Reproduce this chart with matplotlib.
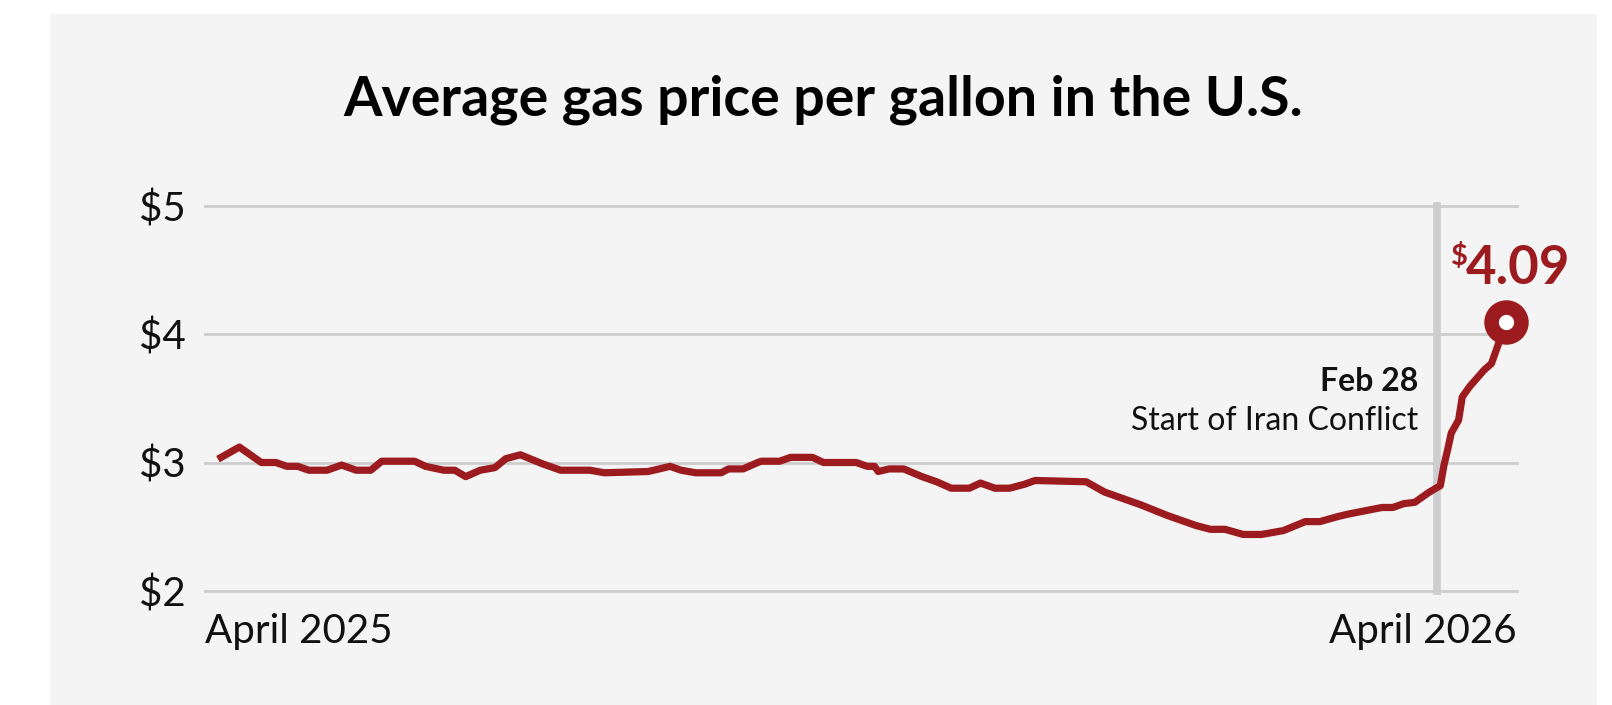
import pandas as pd
import matplotlib.pyplot as plt
from matplotlib.patches import Rectangle

# values (date, average price per gallon)
dates = [
	"2025-04-01", "2025-04-06", "2025-04-12", "2025-04-16", "2025-04-19", "2025-04-22",
	"2025-04-25", "2025-04-30", "2025-05-04", "2025-05-08", "2025-05-12", "2025-05-15",
	"2025-05-24", "2025-05-27", "2025-06-01", "2025-06-04", "2025-06-07", "2025-06-11",
	"2025-06-15", "2025-06-18", "2025-06-22", "2025-06-28", "2025-07-03", "2025-07-11",
	"2025-07-15", "2025-07-27", "2025-08-02", "2025-08-05", "2025-08-09", "2025-08-16",
	"2025-08-18", "2025-08-22", "2025-08-26", "2025-08-27", "2025-09-01", "2025-09-04",
	"2025-09-10", "2025-09-13", "2025-09-22", "2025-09-25", "2025-09-27", "2025-09-28",
	"2025-10-01", "2025-10-05", "2025-10-10", "2025-10-14", "2025-10-18", "2025-10-23",
	"2025-10-26", "2025-10-30", "2025-11-03", "2025-11-07", "2025-11-10", "2025-11-24",
	"2025-11-29", "2025-12-04", "2025-12-09", "2025-12-16", "2025-12-24", "2025-12-28",
	"2026-01-01", "2026-01-06", "2026-01-11", "2026-01-17", "2026-01-23", "2026-01-27",
	"2026-02-01", "2026-02-04", "2026-02-13", "2026-02-16", "2026-02-19", "2026-02-22",
	"2026-02-24", "2026-02-26", "2026-03-01", "2026-03-02", "2026-03-03", "2026-03-04",
	"2026-03-05", "2026-03-06", "2026-03-07", "2026-03-09", "2026-03-13", "2026-03-15",
	"2026-03-16", "2026-03-19",
]
prices = [
	3.04, 3.12, 3.00, 3.00, 2.97, 2.97,
	2.94, 2.94, 2.98, 2.94, 2.94, 3.01,
	3.01, 2.97, 2.94, 2.94, 2.89, 2.94,
	2.96, 3.03, 3.06, 2.99, 2.94, 2.94,
	2.92, 2.93, 2.97, 2.94, 2.92, 2.92,
	2.95, 2.95, 3.00, 3.01, 3.01, 3.04,
	3.04, 3.00, 3.00, 2.97, 2.97, 2.93,
	2.95, 2.95, 2.89, 2.85, 2.80, 2.80,
	2.84, 2.80, 2.80, 2.83, 2.86, 2.85,
	2.77, 2.72, 2.67, 2.59, 2.51, 2.48,
	2.48, 2.44, 2.44, 2.47, 2.54, 2.54,
	2.58, 2.60, 2.65, 2.65, 2.68, 2.69,
	2.73, 2.77, 2.82, 2.98, 3.10, 3.23,
	3.28, 3.33, 3.51, 3.59, 3.72, 3.77,
	3.85, 4.09,
]
y_ticks = [2, 3, 4, 5]
y_labels = ["$2", "$3", "$4", "$5"]
x_labels = ["April 2025", "April 2026"]
event_date = "2026-02-28"

df = pd.DataFrame({"price": prices}, index=pd.to_datetime(dates))

red = "#9b1b1f"
grid_c = "#cdcdcd"
ink = "#111111"
plt.rcParams["font.family"] = ["Lato", "DejaVu Sans"]

fig = plt.figure(figsize=(16.12, 7.05), dpi=100)
fig.patches.append(Rectangle((50 / 1612, 0), 1547 / 1612, 691 / 705,
	transform=fig.transFigure, facecolor="#f4f4f4", edgecolor="none", zorder=-1))

ax = fig.add_axes([205 / 1612, 1 - 591 / 705, 1312 / 1612, 385.5 / 705])
ax.set_facecolor("none")
for s in ax.spines.values():
	s.set_visible(False)

x0 = pd.Timestamp("2025-03-27 14:00")
x1 = pd.Timestamp("2026-03-22")
ax.set_xlim(x0, x1)
ax.set_ylim(2, 5)

for y in y_ticks:
	ax.axhline(y, color=grid_c, lw=2, clip_on=False, zorder=1)
ax.axvline(pd.Timestamp(event_date), color=grid_c, lw=5.5, clip_on=False, zorder=1)

ax.plot(df.index, df["price"], color=red, lw=5.2, solid_joinstyle="round", zorder=3)
ax.plot(df.index[-1], df["price"].iloc[-1], "o", ms=21.5, mfc="white", mec=red, mew=10.5,
	zorder=4, clip_on=False)

ax.set_yticks(y_ticks)
ax.set_yticklabels(y_labels, fontsize=29, fontweight="normal", color=ink)
ax.set_xticks([x0, x1])
ax.set_xticklabels(x_labels, fontsize=29, fontweight="normal", color=ink)
xl = ax.get_xticklabels()
xl[0].set_ha("left")
xl[1].set_ha("right")
ax.tick_params(axis="both", length=0)
ax.tick_params(axis="y", pad=14)
ax.tick_params(axis="x", pad=16)

# annotations
ax.text(pd.Timestamp("2026-02-23"), 3.63, "Feb 28", ha="right", va="center",
	fontsize=23, fontweight="bold", color=ink)
ax.text(pd.Timestamp("2026-02-23"), 3.32, "Start of Iran Conflict", ha="right", va="center",
	fontsize=23, fontweight="normal", color=ink)
ax.text(pd.Timestamp("2026-03-04"), 4.54, "$", ha="left", va="baseline",
	fontsize=21, fontweight="bold", color=red)
ax.text(pd.Timestamp("2026-03-08"), 4.39, "4.09", ha="left", va="baseline",
	fontsize=38, fontweight="bold", color=red)

fig.text(823 / 1612, 1 - 100 / 705, "Average gas price per gallon in the U.S.", ha="center",
	va="center", fontsize=40, fontweight="bold", color="#000000")

fig.savefig("out.png", dpi=100)
